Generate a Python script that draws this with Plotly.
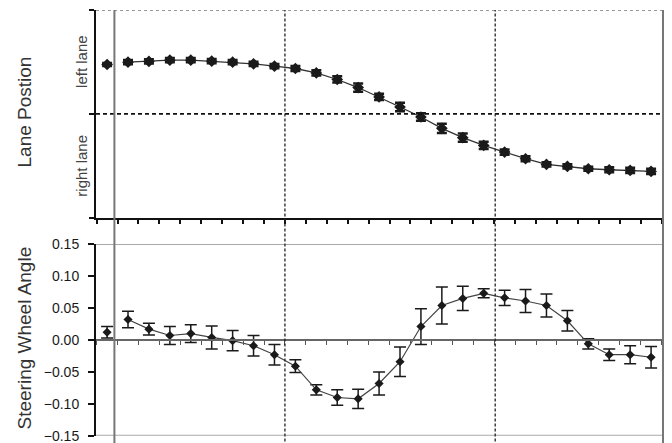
import plotly.graph_objects as go

# ---- data ----
idx = list(range(28))
lane_pos = [0.95, 0.995, 1.01, 1.034, 1.034, 1.014, 0.995, 0.962, 0.918, 0.873,
            0.788, 0.661, 0.506, 0.325, 0.131, -0.062, -0.280, -0.46, -0.609, -0.738,
            -0.866, -0.976, -1.014, -1.059, -1.078, -1.092, -1.111, -1.156]
lane_err = [0.03, 0.04, 0.04, 0.04, 0.04, 0.04, 0.04, 0.04, 0.04, 0.05,
            0.05, 0.06, 0.08, 0.06, 0.08, 0.07, 0.09, 0.08, 0.07, 0.05,
            0.05, 0.04, 0.04, 0.04, 0.05, 0.05, 0.05, 0.04]
steer = [0.012, 0.032, 0.017, 0.007, 0.010, 0.004, -0.001, -0.009, -0.023, -0.041,
         -0.078, -0.090, -0.092, -0.068, -0.034, 0.021, 0.054, 0.065, 0.073, 0.066,
         0.061, 0.054, 0.030, -0.006, -0.023, -0.023, -0.027, -0.007]
steer_err = [0.009, 0.013, 0.009, 0.014, 0.014, 0.018, 0.016, 0.016, 0.016, 0.010,
             0.008, 0.012, 0.015, 0.018, 0.023, 0.028, 0.029, 0.019, 0.007, 0.012,
             0.018, 0.018, 0.016, 0.008, 0.009, 0.014, 0.017, 0.012]
connected = [False] + [True] * 26 + [False]

solid_events = [0.35, 26.57]
dashed_events = [8.5, 18.55]
lane_labels = ["left lane", "right lane"]
lane_label_pos = [1, -1]
steer_ticks = [0.15, 0.10, 0.05, 0.00, -0.05, -0.10, -0.15]
steer_frame = [0.15, -0.15]

def split(vals, flag):
    return [v for v, c in zip(vals, connected) if c == flag]

fig = go.Figure()
FONT = "Liberation Sans, Arial, sans-serif"
DARK = "#1a1a1a"

for flag in (True, False):
    fig.add_trace(go.Scatter(
        x=split(idx, flag), y=split(lane_pos, flag),
        mode="lines+markers" if flag else "markers",
        line=dict(color="#333", width=1.3),
        marker=dict(symbol="diamond", size=9, color=DARK),
        error_y=dict(type="data", array=split(lane_err, flag), color=DARK,
                     thickness=2.5, width=5),
        xaxis="x", yaxis="y", showlegend=False))
    fig.add_trace(go.Scatter(
        x=split(idx, flag), y=split(steer, flag),
        mode="lines+markers" if flag else "markers",
        line=dict(color="#444", width=1.2),
        marker=dict(symbol="diamond", size=7, color=DARK),
        error_y=dict(type="data", array=split(steer_err, flag), color=DARK,
                     thickness=1.5, width=6),
        xaxis="x2", yaxis="y2", showlegend=False))

xr = [-0.53, 27.0]
half_ticks = [i - 0.5 for i in range(29)]
top_dom = [0.515, 1.0]
bot_dom = [0.005, 0.453]

# page body has an 8px margin: figure is 664x435 so that it ends at 672x443
fig.update_layout(
    width=664, height=435,
    margin=dict(l=88, r=0, t=2, b=5, autoexpand=False),
    paper_bgcolor="white", plot_bgcolor="white",
    font=dict(family=FONT, color=DARK),
    xaxis=dict(domain=[0, 1], range=xr, anchor="y", tickvals=half_ticks,
               showticklabels=False, ticks="outside", ticklen=4, tickwidth=1.5,
               tickcolor="#111", showline=True, linecolor="#111", linewidth=2,
               showgrid=False, zeroline=False, automargin=False),
    yaxis=dict(domain=top_dom, range=[-2, 2], anchor="x", tickvals=[-2, 0, 2],
               showticklabels=False, ticks="outside", ticklen=5, tickwidth=1.5,
               tickcolor="#111", showline=True, linecolor="#111", linewidth=2,
               showgrid=False, zeroline=False, automargin=False),
    xaxis2=dict(domain=[0, 1], range=xr, anchor="free",
                position=(bot_dom[0] + bot_dom[1]) / 2, tickvals=half_ticks,
                showticklabels=False, ticks="outside", ticklen=4, tickwidth=1.2,
                tickcolor="#555", showline=True, linecolor="#666", linewidth=2,
                showgrid=False, zeroline=False, automargin=False),
    yaxis2=dict(domain=bot_dom, range=[-0.15, 0.15], anchor="x2",
                tickvals=steer_ticks, tickformat=".2f", ticks="outside",
                ticklen=6, tickwidth=1.5, tickcolor="#111", showline=True,
                linecolor="#111", linewidth=2, showgrid=False, zeroline=False,
                tickfont=dict(size=14, family=FONT, color=DARK),
                ticklabelstandoff=6, ticklabeloverflow="allow", automargin=False),
)

shapes = []
shapes.append(dict(type="line", xref="x", yref="y", x0=xr[0], x1=xr[1], y0=2, y1=2,
                   line=dict(color="#999", width=2, dash="dot")))
shapes.append(dict(type="line", xref="x", yref="y", x0=xr[0], x1=xr[1], y0=0, y1=0,
                   line=dict(color="#111", width=1.8, dash="4px,3px")))
for yv in steer_frame:
    shapes.append(dict(type="line", xref="x2", yref="y2", x0=xr[0], x1=xr[1],
                       y0=yv, y1=yv, line=dict(color="#aaa", width=2)))
for xv in solid_events:
    shapes.append(dict(type="line", xref="x", yref="paper", x0=xv, x1=xv,
                       y0=-0.02, y1=1.0, line=dict(color="#777", width=2)))
for xv in dashed_events:
    shapes.append(dict(type="line", xref="x", yref="paper", x0=xv, x1=xv,
                       y0=-0.02, y1=1.0, line=dict(color="#222", width=1.3, dash="3px,2px")))
fig.update_layout(shapes=shapes)

ann = []
ann.append(dict(text="Lane Postion", xref="paper", yref="paper",
                x=(24 - 96) / 576, y=(438 - 112.5) / 428,
                textangle=-90, showarrow=False, xanchor="center", yanchor="middle",
                font=dict(size=19, family=FONT, color="#333")))
for t, yv in zip(lane_labels, lane_label_pos):
    ann.append(dict(text=t, xref="paper", yref="y", x=(82 - 96) / 576, y=yv,
                    textangle=-90, showarrow=False, xanchor="center", yanchor="middle",
                    font=dict(size=15, family=FONT, color="#444")))
ann.append(dict(text="Steering Wheel Angle", xref="paper", yref="paper",
                x=(24 - 96) / 576, y=(438 - 338.5) / 428,
                textangle=-90, showarrow=False, xanchor="center", yanchor="middle",
                font=dict(size=19, family=FONT, color="#333")))
fig.update_layout(annotations=ann)

fig.write_html("out.html")
